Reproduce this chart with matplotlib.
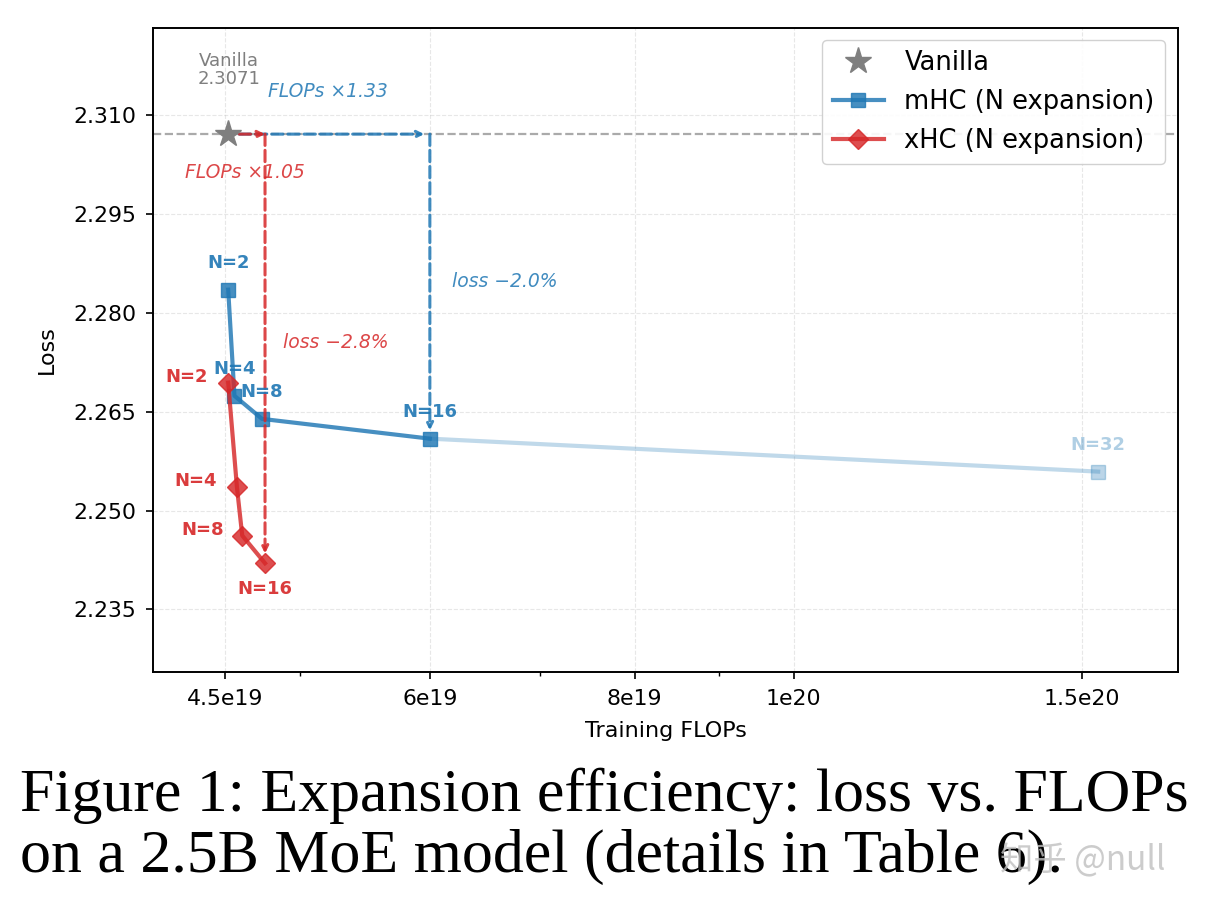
import matplotlib
matplotlib.use("Agg")
import matplotlib.pyplot as plt
from matplotlib.ticker import FixedLocator, FixedFormatter, NullFormatter, LogLocator

# ---------------- data ----------------
vanilla_flops = 4.52e19
vanilla_loss = 2.3071

mhc_n = [2, 4, 8, 16, 32]
mhc_flops = [4.52e19, 4.56e19, 4.74e19, 6.0e19, 1.534e20]
mhc_loss = [2.2835, 2.2674, 2.2639, 2.2609, 2.2559]

xhc_n = [2, 4, 8, 16]
xhc_flops = [4.52e19, 4.576e19, 4.61e19, 4.76e19]
xhc_loss = [2.2694, 2.2535, 2.2462, 2.2420]

xtick_vals = [4.5e19, 6e19, 8e19, 1e20, 1.5e20]
xtick_labels = ["4.5e19", "6e19", "8e19", "1e20", "1.5e20"]
ytick_vals = [2.235, 2.250, 2.265, 2.280, 2.295, 2.310]
ytick_labels = ["2.235", "2.250", "2.265", "2.280", "2.295", "2.310"]

caption1 = "Figure 1: Expansion efficiency: loss vs. FLOPs"
caption2 = "on a 2.5B MoE model (details in Table 6)."

# ---------------- style ----------------
BLUE = "#1f77b4"
RED = "#d62728"
GRAY = "#7f7f7f"

fig = plt.figure(figsize=(12.16, 9.06), dpi=100)
ax = fig.add_axes([153 / 1216, 1 - 672 / 906, 1025 / 1216, 644 / 906])

ax.set_xscale("log")
ax.set_xlim(4.067e19, 1.716e20)
ax.set_ylim(2.2255, 2.3232)

# horizontal baseline
ax.axhline(vanilla_loss, color="#aaaaaa", ls="--", lw=1.6, zorder=1)

# mHC main
ax.plot(mhc_flops[:4], mhc_loss[:4], color=BLUE, alpha=0.82, lw=3, marker="s",
        markersize=10, label="mHC (N expansion)", zorder=4)
# mHC faded segment to N=32
ax.plot(mhc_flops[3:], mhc_loss[3:], color=BLUE, alpha=0.28, lw=3, zorder=3)
ax.plot(mhc_flops[4:], mhc_loss[4:], color=BLUE, alpha=0.3, lw=0, marker="s",
        markersize=10, zorder=3)

# xHC
ax.plot(xhc_flops, xhc_loss, color=RED, alpha=0.82, lw=3, marker="D",
        markersize=10, label="xHC (N expansion)", zorder=5)

# vanilla star
ax.plot([vanilla_flops], [vanilla_loss], ls="none", marker="*", color=GRAY,
        markersize=20, label="Vanilla", zorder=6)

# arrows
ax.annotate("", xy=(mhc_flops[3], vanilla_loss), xytext=(vanilla_flops, vanilla_loss),
            arrowprops=dict(arrowstyle="->", ls="--", color=BLUE, alpha=0.85, lw=2.2,
                            shrinkA=8, shrinkB=4), zorder=4)
ax.annotate("", xy=(xhc_flops[3], vanilla_loss), xytext=(vanilla_flops, vanilla_loss),
            arrowprops=dict(arrowstyle="->", ls="--", color=RED, alpha=0.85, lw=2.2,
                            shrinkA=8, shrinkB=0), zorder=5)
ax.annotate("", xy=(mhc_flops[3], mhc_loss[3]), xytext=(mhc_flops[3], vanilla_loss),
            arrowprops=dict(arrowstyle="->", ls="--", color=BLUE, alpha=0.85, lw=2.2,
                            shrinkA=0, shrinkB=6), zorder=4)
ax.annotate("", xy=(xhc_flops[3], xhc_loss[3]), xytext=(xhc_flops[3], vanilla_loss),
            arrowprops=dict(arrowstyle="->", ls="--", color=RED, alpha=0.85, lw=2.2,
                            shrinkA=0, shrinkB=7), zorder=5)

# arrow texts
ax.text(0.112, 0.902, "FLOPs ×1.33", transform=ax.transAxes, color=BLUE, alpha=0.85,
        fontsize=13.5, style="italic", ha="left", va="center")
ax.text(0.031, 0.776, "FLOPs ×1.05", transform=ax.transAxes, color=RED, alpha=0.85,
        fontsize=13.5, style="italic", ha="left", va="center")
ax.text(0.292, 0.607, "loss −2.0%", transform=ax.transAxes, color=BLUE, alpha=0.85,
        fontsize=13.5, style="italic", ha="left", va="center")
ax.text(0.127, 0.511, "loss −2.8%", transform=ax.transAxes, color=RED, alpha=0.85,
        fontsize=13.5, style="italic", ha="left", va="center")
ax.text(0.074, 0.935, "Vanilla\n2.3071", transform=ax.transAxes, color=GRAY,
        fontsize=13, ha="center", va="center", multialignment="center", linespacing=1.0)

# N labels mHC
for n, fx, ly in zip(mhc_n, mhc_flops, mhc_loss):
    a = 0.35 if n == 32 else 0.9
    ax.annotate(f"N={n}", xy=(fx, ly), xytext=(0, 27), textcoords="offset pixels",
                ha="center", va="center", color=BLUE, alpha=a, fontsize=13,
                fontweight="bold", zorder=7)

# N labels xHC
xhc_offsets = [(-20, 6), (-20, 6), (-18, 6), (0, -26)]
for n, fx, ly, off in zip(xhc_n, xhc_flops, xhc_loss, xhc_offsets):
    ha = "center" if off[0] == 0 else "right"
    ax.annotate(f"N={n}", xy=(fx, ly), xytext=off, textcoords="offset pixels",
                ha=ha, va="center", color=RED, alpha=0.9, fontsize=13,
                fontweight="bold", zorder=7)

# ticks
ax.xaxis.set_major_locator(FixedLocator(xtick_vals))
ax.xaxis.set_major_formatter(FixedFormatter(xtick_labels))
ax.xaxis.set_minor_locator(LogLocator(base=10, subs=range(2, 10)))
ax.xaxis.set_minor_formatter(NullFormatter())
ax.yaxis.set_major_locator(FixedLocator(ytick_vals))
ax.yaxis.set_major_formatter(FixedFormatter(ytick_labels))
ax.tick_params(axis="both", which="major", labelsize=15.8, length=5, width=1.2, pad=7)
ax.tick_params(axis="x", which="minor", length=3, width=1.0)
ax.grid(True, which="major", ls="--", lw=0.8, alpha=0.3)
for s in ax.spines.values():
    s.set_linewidth(1.4)

ax.set_xlabel("Training FLOPs", fontsize=16, labelpad=9)
ax.set_ylabel("Loss", fontsize=16, labelpad=12)

# legend
h, l = ax.get_legend_handles_labels()
order = [l.index("Vanilla"), l.index("mHC (N expansion)"), l.index("xHC (N expansion)")]
ax.legend([h[i] for i in order], [l[i] for i in order], loc="upper right",
          fontsize=18.5, framealpha=0.9, borderpad=0.4, handlelength=2.0,
          borderaxespad=0, bbox_to_anchor=(1 - 13 / 1025, 1 - 12 / 644))

# caption
fig.text(20 / 1216, 1 - 811 / 906, caption1, family="Liberation Serif", fontsize=44.6,
         va="baseline", ha="left")
fig.text(20 / 1216, 1 - 872 / 906, caption2, family="Liberation Serif", fontsize=44.6,
         va="baseline", ha="left")
# watermark
fig.text(1000 / 1216, 1 - 870 / 906, "知乎 @null",
         family=["Noto Sans CJK SC", "DejaVu Sans"], fontsize=24, color="#c0c0c0",
         alpha=0.8, va="baseline", ha="left")

fig.savefig("out.png", dpi=100)
